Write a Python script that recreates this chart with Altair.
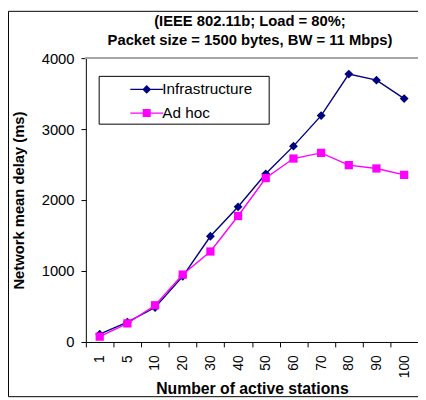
import altair as alt
import pandas as pd

stations = ["1", "5", "10", "20", "30", "40", "50", "60", "70", "80", "90", "100"]
infrastructure = [110, 280, 485, 925, 1490, 1905, 2370, 2760, 3190, 3775, 3690, 3430]
ad_hoc = [75, 262, 518, 950, 1275, 1775, 2310, 2585, 2665, 2492, 2445, 2355]
series_names = ["Infrastructure", "Ad hoc"]
series_colors = ["#000080", "#FF00FF"]
y_ticks = [0, 500, 1000, 1500, 2000, 2500, 3000, 3500, 4000]
title_lines = ["(IEEE 802.11b; Load = 80%;", "Packet size = 1500 bytes, BW = 11 Mbps)"]

df = pd.DataFrame({
    "stations": stations * 2,
    "delay": infrastructure + ad_hoc,
    "series": [series_names[0]] * len(stations) + [series_names[1]] * len(stations),
})

W, H = 337, 288
PAD_L, PAD_T, PAD_B = 79, 48, 56

x_enc = alt.X(
    "stations:N", sort=stations,
    scale=alt.Scale(type="band", paddingInner=0, paddingOuter=0),
    axis=alt.Axis(
        title="Number of active stations", labelAngle=-90, tickBand="extent",
        labelFontSize=14, tickSize=5, labelPadding=8, titlePadding=3,
        titleFontSize=16, titleFontWeight="bold",
    ),
)
y_enc = alt.Y(
    "delay:Q",
    scale=alt.Scale(domain=[0, 4000], nice=False),
    axis=alt.Axis(
        title="Network mean delay (ms)", values=y_ticks, grid=False, format="d",
        labelFontSize=15, tickSize=5, labelPadding=7, titlePadding=15,
        titleFontSize=15, titleFontWeight="bold",
    ),
)

base = alt.Chart(df)
one = alt.Chart(pd.DataFrame({"f": [0]}))

# outer chart frame and legend box (decoration only)
layers = [
    one.mark_rect(fill=None, stroke="black", strokeWidth=1, clip=False).encode(
        x=alt.value(-PAD_L + 0.5), x2=alt.value(W + 20),
        y=alt.value(-PAD_T + 0.5), y2=alt.value(H + PAD_B - 0.5),
    ),
    one.mark_rect(fill="white", stroke="black", strokeWidth=1).encode(
        x=alt.value(13.5), x2=alt.value(186), y=alt.value(18.5), y2=alt.value(67),
    ),
    base.mark_rule(color="#A6A6A6", strokeWidth=1.5).encode(y=alt.datum(4000)),
]
marker_shapes = ["diamond", "square"]
marker_sizes = [80, 70]
for name, col, shp, sz in zip(series_names, series_colors, marker_shapes, marker_sizes):
    sub = base.transform_filter(alt.datum.series == name)
    layers.append(sub.mark_line(color=col, strokeWidth=1.4).encode(x=x_enc, y=y_enc))
    layers.append(sub.mark_point(color=col, shape=shp, filled=True, size=sz, opacity=1).encode(x=x_enc, y=y_enc))

# legend symbols: a thin filled bar (the line) plus the marker, all filled
legend_shapes = [
    "M-3.7,-0.15H3.7V0.15H-3.7Z M0,-1L1,0L0,1L-1,0Z",
    "M-3.7,-0.15H3.7V0.15H-3.7Z M-0.9,-0.9H0.9V0.9H-0.9Z",
]
leg = alt.Legend(title=None)
layers.append(base.transform_filter("false").mark_point(filled=True, opacity=1).encode(
    x=x_enc, y=y_enc,
    color=alt.Color("series:N", scale=alt.Scale(domain=series_names, range=series_colors), legend=leg),
    shape=alt.Shape("series:N", scale=alt.Scale(domain=series_names, range=legend_shapes), legend=leg),
))

chart = alt.layer(*layers).properties(
    width=W, height=H,
    autosize=alt.AutoSizeParams(type="none"),
    padding={"left": PAD_L, "top": PAD_T, "right": 0, "bottom": PAD_B},
    title=alt.TitleParams(
        text=title_lines, fontSize=15, fontWeight="bold", anchor="middle",
        frame="group", dx=-2, offset=-53, baseline="bottom", lineHeight=20, color="black",
    ),
).configure_view(stroke=None).configure_axis(
    domainColor="black", tickColor="black", labelColor="black", titleColor="black",
    labelFont="Liberation Sans", titleFont="Liberation Sans",
).configure_title(font="Liberation Sans").configure_legend(
    orient="none", legendX=34, legendY=18, padding=6,
    labelFont="Liberation Sans", labelFontSize=15.5, labelColor="black",
    symbolSize=81, symbolOffset=14, labelOffset=8, rowPadding=7,
)

chart.save("out.html", embed_options={"renderer": "svg", "actions": False})
